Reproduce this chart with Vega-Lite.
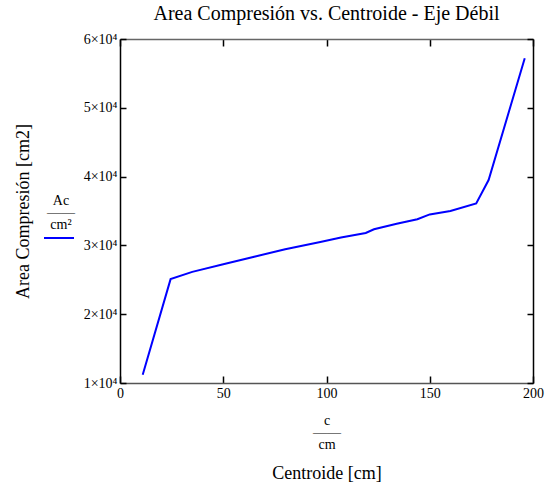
{
  "$schema": "https://vega.github.io/schema/vega-lite/v6.json",
  "width": 413,
  "height": 344,
  "autosize": {"type": "none"},
  "padding": {"left": 120, "top": 39, "right": 25, "bottom": 106},
  "background": "white",
  "title": {"text": "Area Compresión vs. Centroide - Eje Débil", "font": "Liberation Serif", "fontSize": 20, "fontWeight": "normal", "color": "#000", "anchor": "middle", "baseline": "alphabetic", "offset": 0, "dy": 8},
  "config": {
    "view": {"stroke": null},
    "axis": {"grid": false, "labelFont": "Liberation Serif", "titleFont": "Liberation Serif", "labelColor": "#000", "titleColor": "#000", "titleFontWeight": "normal", "tickColor": "#000", "domainWidth": 1.5, "tickWidth": 1.5}
  },
  "data": {"values": [
    {"c": 11, "Ac": 11200, "s": "Ac"},
    {"c": 24.5, "Ac": 25100, "s": "Ac"},
    {"c": 35, "Ac": 26150, "s": "Ac"},
    {"c": 50, "Ac": 27250, "s": "Ac"},
    {"c": 65, "Ac": 28350, "s": "Ac"},
    {"c": 80, "Ac": 29450, "s": "Ac"},
    {"c": 97, "Ac": 30500, "s": "Ac"},
    {"c": 107, "Ac": 31150, "s": "Ac"},
    {"c": 119, "Ac": 31800, "s": "Ac"},
    {"c": 123, "Ac": 32350, "s": "Ac"},
    {"c": 134, "Ac": 33150, "s": "Ac"},
    {"c": 144, "Ac": 33800, "s": "Ac"},
    {"c": 150, "Ac": 34500, "s": "Ac"},
    {"c": 160, "Ac": 35000, "s": "Ac"},
    {"c": 172.5, "Ac": 36100, "s": "Ac"},
    {"c": 178.5, "Ac": 39500, "s": "Ac"},
    {"c": 196, "Ac": 57200, "s": "Ac"}
  ]},
  "layer": [
    {
      "mark": {"type": "line", "strokeWidth": 2},
      "encoding": {
        "x": {"field": "c", "type": "quantitative", "scale": {"domain": [0, 200], "nice": false},
          "axis": {"orient": "bottom", "title": "Centroide [cm]", "titleFontSize": 18, "titleX": 206.5, "titleY": 81, "titleBaseline": "top", "titleAlign": "center", "values": [0, 50, 100, 150, 200], "tickSize": -7, "labelPadding": 10, "labelFontSize": 14, "labelFlush": false, "domainColor": "#555"}},
        "y": {"field": "Ac", "type": "quantitative", "scale": {"domain": [10000, 60000], "nice": false, "zero": false},
          "axis": {"orient": "left", "title": "Area Compresión [cm2]", "titleFontSize": 18, "titleX": -97, "titleY": 172, "titleAngle": 270, "titleBaseline": "middle", "titleAlign": "center", "values": [10000, 20000, 30000, 40000, 50000, 60000], "labelExpr": "format(datum.value/10000,'d') + '×10⁴'", "tickSize": -6, "labelPadding": 9, "labelFontSize": 14, "labelFlush": false, "domainColor": "#000"}},
        "color": {"field": "s", "type": "nominal", "scale": {"range": ["#0000ff"]},
          "legend": {"orient": "none", "legendX": -77, "legendY": 155, "title": ["Ac", "——", "cm²"], "titleFont": "Liberation Serif", "titleFontSize": 14, "titleFontWeight": "normal", "titleColor": "#000", "titleLineHeight": 12, "titleAlign": "center", "titleAnchor": "middle", "titlePadding": -10, "symbolType": "stroke", "symbolSize": 900, "symbolStrokeWidth": 2, "labelExpr": "''", "labelOffset": 0, "padding": 0}}
      }
    },
    {
      "mark": {"type": "line", "strokeWidth": 2, "color": "#0000ff", "strokeOpacity": 0},
      "encoding": {
        "x": {"field": "c", "type": "quantitative", "axis": {"orient": "top", "labels": false, "title": null, "values": [0, 50, 100, 150, 200], "tickSize": -7, "domainColor": "#666", "minExtent": 0}},
        "y": {"field": "Ac", "type": "quantitative", "axis": {"orient": "right", "labels": false, "title": null, "values": [10000, 20000, 30000, 40000, 50000, 60000], "tickSize": -6, "domainColor": "#000"}}
      }
    },
    {
      "mark": {"type": "line", "strokeWidth": 2, "color": "#0000ff", "strokeOpacity": 0},
      "encoding": {
        "x": {"field": "c", "type": "quantitative", "axis": {"orient": "bottom", "domain": false, "ticks": false, "labels": false, "title": ["c", "——", "cm"], "titleFontSize": 14, "titleLineHeight": 12, "titleX": 206.5, "titleY": 30, "titleBaseline": "top", "titleAlign": "center"}},
        "y": {"field": "Ac", "type": "quantitative", "axis": null}
      }
    }
  ],
  "resolve": {"axis": {"x": "independent", "y": "independent"}}
}
